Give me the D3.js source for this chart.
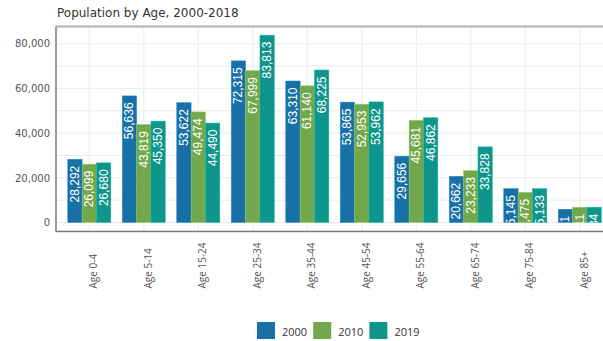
<!DOCTYPE html>
<html>
<head>
<meta charset="utf-8">
<script src="https://cdn.jsdelivr.net/npm/d3@7"></script>
<style>
  html, body { margin: 0; padding: 0; background: #fff; }
  svg { display: block; }
</style>
</head>
<body>
<svg id="chart" width="603" height="341"></svg>
<script>
// Population counts by age group for three census years
const categories = ["Age 0-4", "Age 5-14", "Age 15-24", "Age 25-34", "Age 35-44",
                    "Age 45-54", "Age 55-64", "Age 65-74", "Age 75-84", "Age 85+"];
const years = ["2000", "2010", "2019"];
const values2000 = [28292, 56636, 53622, 72315, 63310, 53865, 29656, 20662, 15145, 5931];
const values2010 = [26099, 43819, 49474, 67999, 61140, 52953, 45681, 23233, 13475, 6811];
const values2019 = [26680, 45350, 44490, 83813, 68225, 53962, 46862, 33828, 15133, 6834];
const yTicks = [0, 20000, 40000, 60000, 80000];
const yGrid = [0, 10000, 20000, 30000, 40000, 50000, 60000, 70000, 80000];
const colors = ["#1870a6", "#72a84b", "#0e958c"];

const seriesValues = [values2000, values2010, values2019];
const rows = categories.map((c, i) => ({
  cat: c,
  vals: years.map((y, k) => ({ year: y, k, value: seriesValues[k][i] }))
}));

const svg = d3.select("#chart");
const plot = { left: 56, top: 26.5, right: 640, bottom: 231.5 };

const x = d3.scaleBand()
  .domain(categories)
  .range([62.05, 607.05])
  .paddingInner(0.21)
  .paddingOuter(0.105);

const xInner = d3.scaleBand()
  .domain(years)
  .range([0, x.bandwidth()]);

const y = d3.scaleLinear()
  .domain([-4030, 87700])
  .range([plot.bottom, plot.top]);

const fmt = d3.format(",");

// Title
svg.append("text")
  .attr("x", 57).attr("y", 17)
  .attr("font-family", "DejaVu Sans")
  .attr("font-size", 12)
  .attr("fill", "#333")
  .text("Population by Age, 2000-2018");

// Gridlines
const grid = svg.append("g");
grid.selectAll("line.h").data(yGrid).join("line")
  .attr("class", "h")
  .attr("x1", plot.left).attr("x2", plot.right)
  .attr("y1", d => y(d)).attr("y2", d => y(d))
  .attr("stroke", "#ebebeb").attr("stroke-width", 1);
grid.selectAll("line.v").data(categories).join("line")
  .attr("class", "v")
  .attr("x1", d => x(d) + x.bandwidth() / 2).attr("x2", d => x(d) + x.bandwidth() / 2)
  .attr("y1", plot.top).attr("y2", plot.bottom)
  .attr("stroke", "#ebebeb").attr("stroke-width", 1);

// Y axis labels
const yAxis = d3.axisLeft(y).tickValues(yTicks).tickFormat(fmt).tickSize(0).tickPadding(6);
const yg = svg.append("g").attr("transform", `translate(${plot.left},0)`).call(yAxis);
yg.select(".domain").remove();
yg.selectAll("text")
  .attr("font-family", "DejaVu Sans")
  .attr("font-size", 10)
  .attr("fill", "#555");

// X axis labels, rotated
const xAxis = d3.axisBottom(x).tickSize(0).tickPadding(0);
const xg = svg.append("g").attr("transform", `translate(0,${plot.bottom})`).call(xAxis);
xg.select(".domain").remove();
xg.selectAll("text")
  .attr("font-family", "Open Sans")
  .attr("font-size", 10)
  .attr("fill", "#555")
  .attr("text-anchor", "start")
  .attr("dy", null)
  .attr("y", 0)
  .attr("transform", "translate(4,57) rotate(-90)")
  .attr("dominant-baseline", "central");

// Clip paths for value labels inside each bar
const defs = svg.append("defs");

const groups = svg.append("g").selectAll("g.grp").data(rows).join("g")
  .attr("class", "grp")
  .attr("transform", d => `translate(${x(d.cat)},0)`);

groups.each(function(row, i) {
  const g = d3.select(this);
  row.vals.forEach(v => {
    const bx = xInner(v.year), bw = xInner.bandwidth();
    const top = y(v.value), base = y(0);
    const id = `clip-${i}-${v.k}`;
    defs.append("clipPath").attr("id", id)
      .append("rect")
      .attr("x", x(row.cat) + bx).attr("y", top)
      .attr("width", bw).attr("height", base - top);
    g.append("rect")
      .attr("x", bx).attr("y", top)
      .attr("width", bw).attr("height", base - top)
      .attr("fill", colors[v.k])
      .attr("stroke", d3.color(colors[v.k]).brighter(0.6))
      .attr("stroke-width", 0.5);
    svg.append("g").attr("clip-path", `url(#${id})`)
      .append("text")
      .attr("transform", `translate(${x(row.cat) + bx + bw / 2},${top + 6.5}) rotate(-90)`)
      .attr("text-anchor", "end")
      .attr("dominant-baseline", "central")
      .attr("font-family", "Liberation Sans")
      .attr("font-size", 12)
      .attr("fill", "#fff")
      .text(fmt(v.value));
  });
});

// Frame: left, top and bottom edges
svg.append("line").attr("x1", plot.left).attr("x2", plot.left)
  .attr("y1", plot.top).attr("y2", plot.bottom + 0.5)
  .attr("stroke", "#7a7a7a").attr("stroke-width", 1.5);
svg.append("line").attr("x1", plot.left).attr("x2", plot.right)
  .attr("y1", plot.top).attr("y2", plot.top)
  .attr("stroke", "#b0b0b0").attr("stroke-width", 2);
svg.append("line").attr("x1", plot.left).attr("x2", plot.right)
  .attr("y1", plot.bottom).attr("y2", plot.bottom)
  .attr("stroke", "#7a7a7a").attr("stroke-width", 1.5);

// Legend
const legend = svg.append("g").selectAll("g").data(years).join("g")
  .attr("transform", (d, i) => `translate(${257 + i * 56.2},322)`);
legend.append("rect")
  .attr("width", 18).attr("height", 17)
  .attr("fill", (d, i) => colors[i]);
legend.append("text")
  .attr("x", 25).attr("y", 14)
  .attr("font-family", "Open Sans")
  .attr("font-size", 11)
  .attr("fill", "#333")
  .text(d => d);
</script>
</body>
</html>
